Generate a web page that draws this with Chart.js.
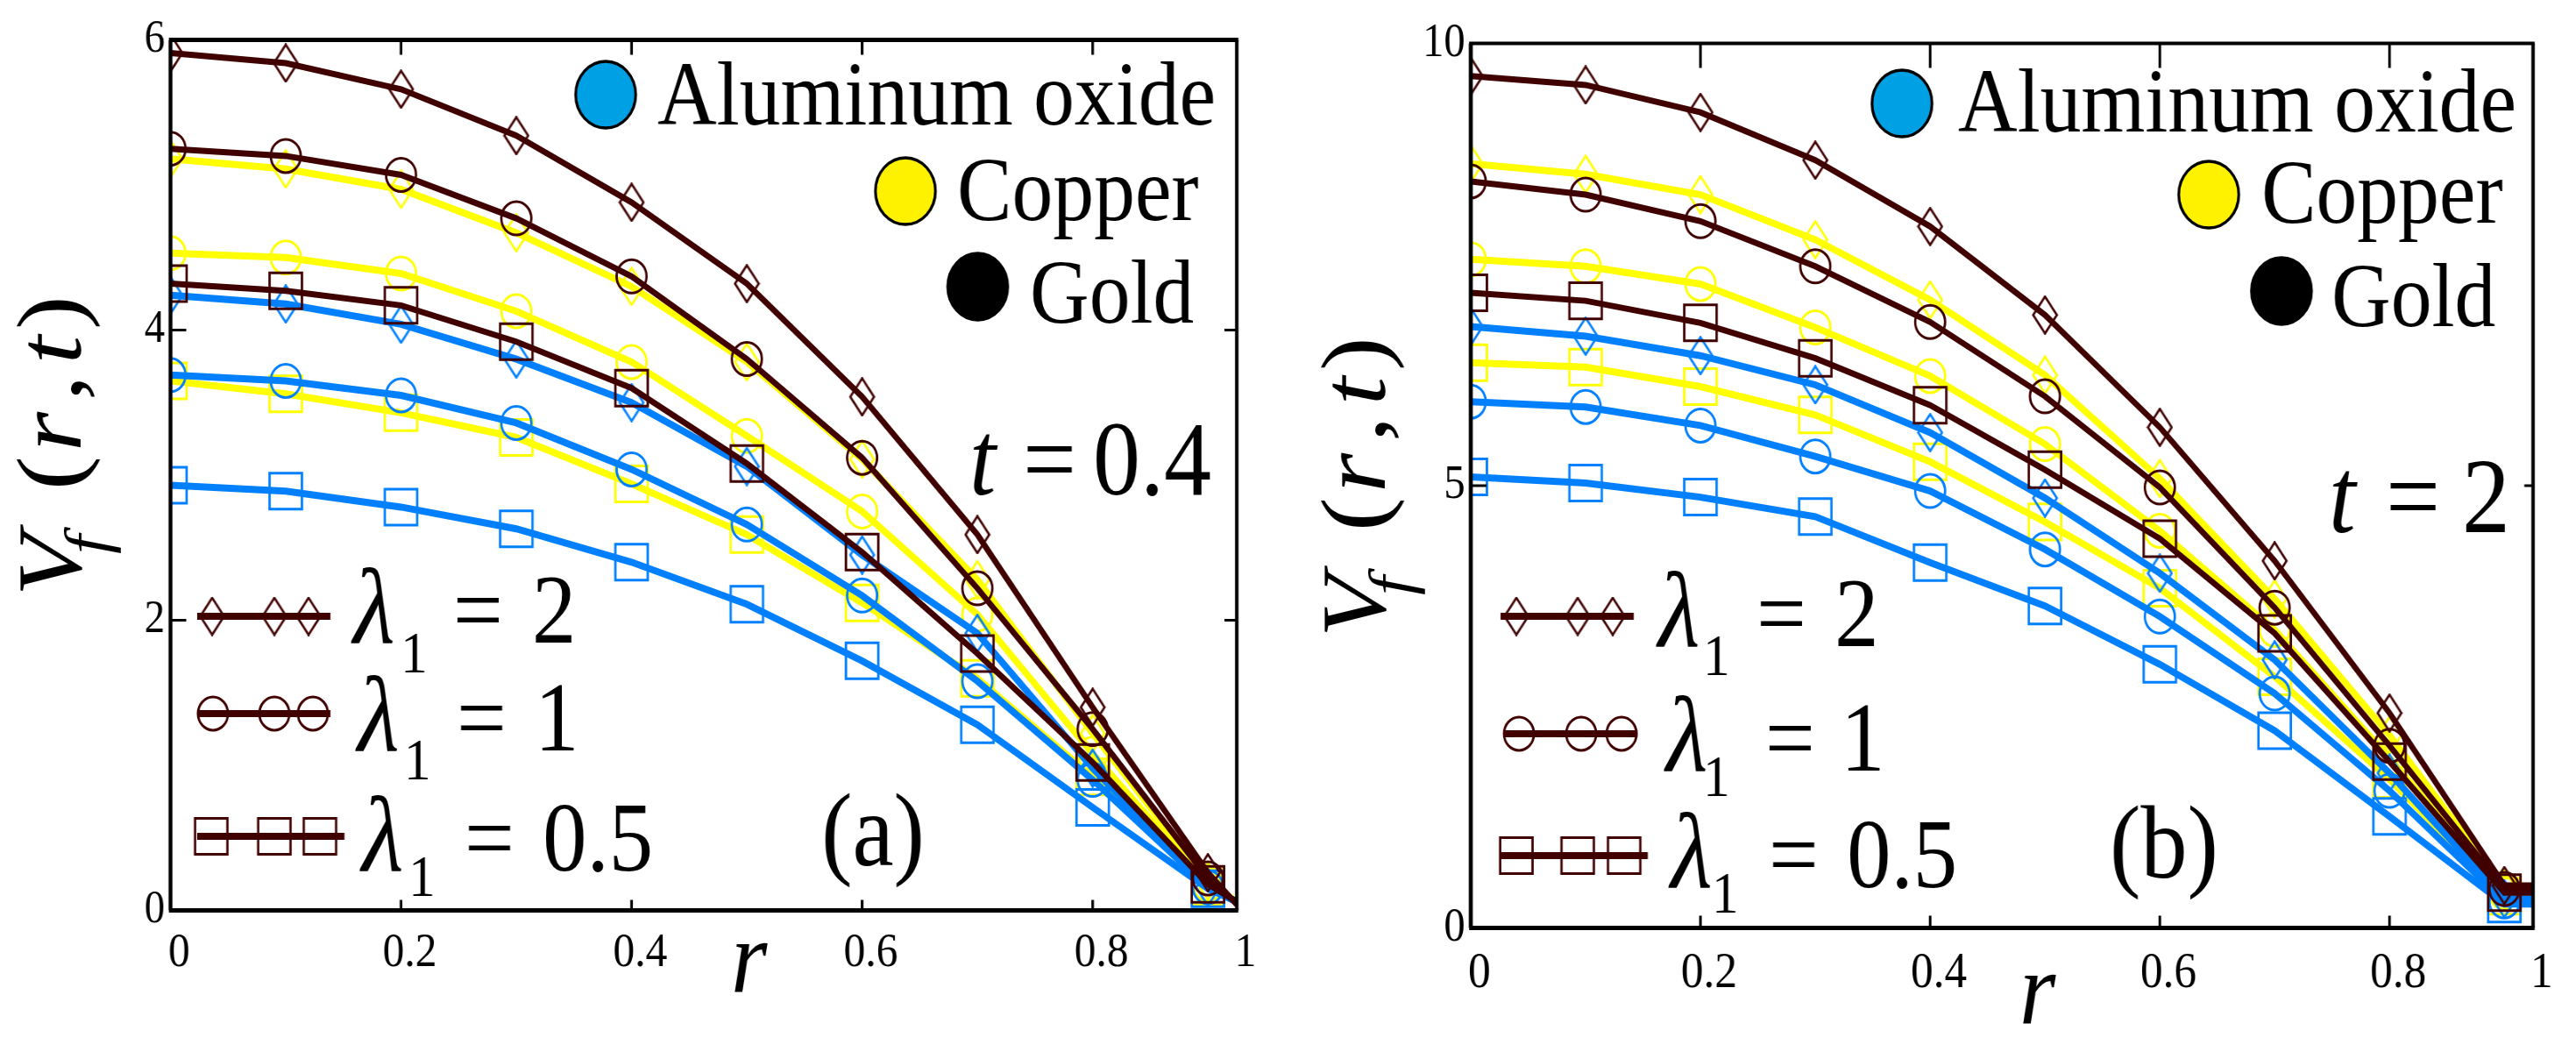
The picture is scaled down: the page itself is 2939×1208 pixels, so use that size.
<!DOCTYPE html>
<html><head><meta charset="utf-8">
<script src="https://cdn.jsdelivr.net/npm/chart.js@4.4.1/dist/chart.umd.min.js"></script>
<style>
html,body{margin:0;padding:0;background:#fff;}
body{width:2939px;height:1208px;position:relative;overflow:hidden;}
canvas{position:absolute;top:0;}
</style></head><body>
<canvas id="ca" width="1633" height="1208" style="left:0px;top:0px;width:1470px;height:1208px"></canvas>
<canvas id="cb" width="1632" height="1208" style="left:1470px;top:0px;width:1469px;height:1208px"></canvas>
<script>
// ---------------- DATA ----------------
const rValues = [0, 0.1, 0.2, 0.3, 0.4, 0.5, 0.6, 0.7, 0.8, 0.9, 0.925];
const xTickValues = [0, 0.2, 0.4, 0.6, 0.8, 0.925];
const xTickLabels = ['0', '0.2', '0.4', '0.6', '0.8', '1'];
const materials = ['Aluminum oxide', 'Copper', 'Gold'];
const lambdaLabels = ['2', '1', '0.5'];
const timeLabels = ['0.4', '2'];
const panelLabels = ['(a)', '(b)'];

// panel (a), t = 0.4
const goldA_l2     = [5.91, 5.84, 5.66, 5.34, 4.88, 4.32, 3.54, 2.59, 1.40, 0.26, 0.04];
const goldA_l1     = [5.25, 5.20, 5.07, 4.77, 4.37, 3.80, 3.12, 2.22, 1.25, 0.22, 0.05];
const goldA_l05    = [4.32, 4.27, 4.17, 3.92, 3.60, 3.08, 2.47, 1.77, 1.02, 0.18, 0.06];
const copperA_l2   = [5.18, 5.11, 4.97, 4.67, 4.30, 3.78, 3.11, 2.28, 1.22, 0.20, 0.06];
const copperA_l1   = [4.53, 4.50, 4.39, 4.13, 3.78, 3.27, 2.75, 2.04, 1.08, 0.18, 0.06];
const copperA_l05  = [3.65, 3.56, 3.43, 3.26, 2.94, 2.59, 2.12, 1.60, 0.92, 0.16, 0.06];
const aluminaA_l2  = [4.24, 4.18, 4.04, 3.80, 3.50, 3.06, 2.45, 1.91, 0.98, 0.16, 0.06];
const aluminaA_l1  = [3.69, 3.65, 3.55, 3.36, 3.04, 2.66, 2.17, 1.58, 0.90, 0.16, 0.06];
const aluminaA_l05 = [2.93, 2.89, 2.78, 2.63, 2.40, 2.11, 1.72, 1.28, 0.71, 0.15, 0.06];

// panel (b), t = 2
const goldB_l2     = [9.63, 9.53, 9.22, 8.68, 7.93, 6.93, 5.66, 4.15, 2.43, 0.48, 0.48];
const goldB_l1     = [8.44, 8.29, 7.99, 7.48, 6.85, 6.01, 4.98, 3.62, 2.06, 0.44, 0.44];
const goldB_l05    = [7.18, 7.09, 6.84, 6.44, 5.91, 5.18, 4.40, 3.33, 1.88, 0.40, 0.40];
const copperB_l2   = [8.64, 8.52, 8.29, 7.78, 7.10, 6.25, 5.08, 3.72, 2.18, 0.45, 0.45];
const copperB_l1   = [7.56, 7.48, 7.28, 6.79, 6.24, 5.47, 4.49, 3.37, 1.92, 0.40, 0.40];
const copperB_l05  = [6.39, 6.34, 6.12, 5.80, 5.27, 4.59, 3.84, 2.84, 1.68, 0.36, 0.36];
const aluminaB_l2  = [6.80, 6.69, 6.47, 6.14, 5.60, 4.86, 4.01, 3.03, 1.75, 0.33, 0.33];
const aluminaB_l1  = [5.95, 5.89, 5.68, 5.33, 4.94, 4.28, 3.52, 2.65, 1.55, 0.30, 0.30];
const aluminaB_l05 = [5.10, 5.03, 4.87, 4.65, 4.13, 3.64, 2.98, 2.23, 1.26, 0.27, 0.27];

// ---------------- STYLE ----------------
const FONT = '"Liberation Serif", "Times New Roman", serif';
const lineColors = ['#0080FF', '#FFFF00', '#400000'];   // alumina, copper, gold
const legendFill = ['#00A0E4', '#FFF200', '#000000'];
const lineWidths = [8, 8, 7];

function diamondSprite(color) {
  const c = document.createElement('canvas');
  c.width = 34; c.height = 45;
  const g = c.getContext('2d');
  g.strokeStyle = color; g.lineWidth = 2.8;
  g.beginPath();
  g.moveTo(17, 1.5); g.lineTo(32, 22.5); g.lineTo(17, 43.5); g.lineTo(2, 22.5);
  g.closePath(); g.stroke();
  return c;
}
const diamonds = lineColors.map(diamondSprite);
function markerStyle(lam, mat) { return lam === 0 ? diamonds[mat] : (lam === 1 ? 'circle' : 'rect'); }
const markerRadius = [10, 19, 29];

function makeDatasets(list) {
  const last = rValues.length - 1;
  return list.map(s => ({
    data: s.values.map((v, i) => ({ x: rValues[i], y: v })),
    borderColor: lineColors[s.mat],
    borderWidth: lineWidths[s.mat],
    tension: 0,
    fill: false,
    clip: 0,
    pointStyle: markerStyle(s.lam, s.mat),
    pointRadius: c => (c.dataIndex === last ? 0 : markerRadius[s.lam]),
    pointBorderColor: lineColors[s.mat],
    pointBackgroundColor: 'rgba(0,0,0,0)',
    pointBorderWidth: 3
  }));
}

// ---------------- DECORATION PLUGIN ----------------
function drawMarker(ctx, lam, mat, x, y) {
  ctx.save();
  ctx.strokeStyle = lineColors[mat];
  ctx.fillStyle = 'rgba(0,0,0,0)';
  ctx.lineWidth = 3;
  Chart.helpers.drawPoint(ctx, { pointStyle: markerStyle(lam, mat), radius: markerRadius[lam], borderWidth: 3, rotation: 0 }, x, y);
  ctx.restore();
}

function makeDecor(cfg) {
  return {
    id: 'decor' + cfg.idx,
    afterDraw(chart) {
      const ctx = chart.ctx;
      const a = chart.chartArea;
      const xs = chart.scales.x, ys = chart.scales.y;
      const sx = cfg.sx;
      const X = dx => (dx - cfg.left) / sx;
      ctx.save();
      ctx.strokeStyle = '#000';
      ctx.lineCap = 'butt';
      const seg = (x1, y1, x2, y2, w) => { ctx.lineWidth = w; ctx.beginPath(); ctx.moveTo(x1, y1); ctx.lineTo(x2, y2); ctx.stroke(); };
      // frame
      seg(a.left - 2, a.top, a.right + 2, a.top, cfg.frame[0]);
      seg(a.left - 2, a.bottom, a.right + 2, a.bottom, cfg.frame[1]);
      seg(a.left, a.top, a.left, a.bottom, cfg.frame[2] / sx);
      seg(a.right, a.top, a.right, a.bottom, cfg.frame[3] / sx);
      // inward tick marks
      xTickValues.slice(1, -1).forEach(v => {
        const px = xs.getPixelForValue(v);
        seg(px, a.bottom, px, a.bottom - cfg.tick[1], 3 / sx);
        seg(px, a.top, px, a.top + cfg.tick[0], 3 / sx);
      });
      ys.ticks.map(t => t.value).filter(v => v > ys.min && v < ys.max).forEach(v => {
        const py = ys.getPixelForValue(v);
        seg(a.left, py, a.left + cfg.tick[2] / sx, py, 3);
        seg(a.right, py, a.right - cfg.tick[3] / sx, py, 3);
      });
      ctx.restore();

      // material legend
      ctx.save();
      cfg.mat.forEach((m, i) => {
        ctx.beginPath();
        ctx.arc(X(m.cx), m.cy, 38, 0, Math.PI * 2);
        ctx.fillStyle = legendFill[i]; ctx.fill();
        ctx.lineWidth = 3.5; ctx.strokeStyle = '#000'; ctx.stroke();
        ctx.fillStyle = '#000';
        ctx.font = `104px ${FONT}`;
        ctx.textAlign = 'left'; ctx.textBaseline = 'alphabetic';
        ctx.fillText(materials[i], X(m.tx), m.base);
      });
      ctx.restore();

      // lambda legend
      ctx.save();
      cfg.lam.forEach((r, i) => {
        ctx.strokeStyle = lineColors[2];
        ctx.lineWidth = 8;
        ctx.beginPath(); ctx.moveTo(X(r.x0), r.y); ctx.lineTo(X(r.x1), r.y); ctx.stroke();
        r.marks.forEach(mx => drawMarker(ctx, i, 2, X(mx), r.y));
        ctx.fillStyle = '#000';
        ctx.textAlign = 'left'; ctx.textBaseline = 'alphabetic';
        ctx.font = `italic 122px ${FONT}`;
        ctx.fillText('\u03BB', X(r.lamX), r.base);
        ctx.font = `68px ${FONT}`;
        ctx.fillText('1', X(r.subX), r.subBase);
        ctx.font = `112px ${FONT}`;
        ctx.fillText('=', X(r.eqX), r.base);
        ctx.fillText(lambdaLabels[i], X(r.valX), r.base);
      });
      ctx.restore();

      // t = value, panel label, x title
      ctx.save();
      ctx.fillStyle = '#000'; ctx.textAlign = 'left'; ctx.textBaseline = 'alphabetic';
      const t = cfg.t;
      ctx.font = `italic ${t.size}px ${FONT}`;
      ctx.fillText('t', X(t.tX), t.base);
      ctx.font = `${t.size}px ${FONT}`;
      ctx.fillText('=', X(t.eqX), t.base);
      ctx.fillText(timeLabels[cfg.idx], X(t.valX), t.base);
      ctx.font = `118px ${FONT}`;
      ctx.fillText(panelLabels[cfg.idx], X(cfg.pl.x), cfg.pl.base);
      ctx.font = `italic 118px ${FONT}`;
      ctx.fillText('r', X(cfg.xt.x), cfg.xt.base);
      ctx.restore();

      // y title, rotated (reads bottom to top)
      ctx.save();
      const S = 116;
      const parts = [
        { t: 'V', f: `italic ${S}px ${FONT}`, at: 0, dy: 0 },
        { t: 'f', f: `italic ${Math.round(S * 0.68)}px ${FONT}`, at: 48, dy: 34 },
        { t: '(', f: `${S}px ${FONT}`, at: 121, dy: 0 },
        { t: 'r', f: `italic ${S}px ${FONT}`, at: 165, dy: 0 },
        { t: ',', f: `${S}px ${FONT}`, at: 223, dy: 0 },
        { t: 't', f: `italic ${S}px ${FONT}`, at: 265, dy: 0 },
        { t: ')', f: `${S}px ${FONT}`, at: 304, dy: 0 }
      ];
      ctx.translate(X(cfg.yt.x), cfg.yt.start);
      ctx.rotate(-Math.PI / 2);
      ctx.fillStyle = '#000'; ctx.textAlign = 'left'; ctx.textBaseline = 'alphabetic';
      parts.forEach(p => { ctx.font = p.f; ctx.fillText(p.t, p.at, p.dy); });
      ctx.restore();
    }
  };
}

// ---------------- CHARTS ----------------
function buildChart(canvasId, cfg, datasets, yMax, yStep, layout) {
  return new Chart(document.getElementById(canvasId), {
    type: 'line',
    data: { datasets },
    plugins: [makeDecor(cfg)],
    options: {
      responsive: false, maintainAspectRatio: false, animation: false, devicePixelRatio: 1, events: [],
      layout: { padding: { left: 0, top: layout.top, right: layout.right, bottom: 0 } },
      plugins: { legend: { display: false }, tooltip: { enabled: false } },
      scales: {
        x: {
          type: 'linear', min: 0, max: rValues[rValues.length - 1],
          grid: { display: false, drawTicks: false }, border: { display: false },
          afterBuildTicks: s => { s.ticks = xTickValues.map(v => ({ value: v })); },
          afterFit: s => { s.height = layout.xh; },
          ticks: { autoSkip: false, maxRotation: 0, minRotation: 0, padding: layout.xpad, labelOffset: 11, color: '#000',
                   font: { family: FONT, size: layout.xfont }, callback: (v, i) => xTickLabels[i] }
        },
        y: {
          type: 'linear', min: 0, max: yMax,
          grid: { display: false, drawTicks: false }, border: { display: false },
          afterFit: s => { s.width = layout.yw; },
          ticks: { stepSize: yStep, padding: 7, color: '#000', font: { family: FONT, size: layout.yfont } }
        }
      }
    }
  });
}

function seriesList(g2, g1, g05, a2, a1, a05, c2, c1, c05) {
  return [
    { mat: 2, lam: 0, values: g2 }, { mat: 2, lam: 1, values: g1 }, { mat: 2, lam: 2, values: g05 },
    { mat: 0, lam: 0, values: a2 }, { mat: 0, lam: 1, values: a1 }, { mat: 0, lam: 2, values: a05 },
    { mat: 1, lam: 0, values: c2 }, { mat: 1, lam: 1, values: c1 }, { mat: 1, lam: 2, values: c05 }
  ];
}

const SA = 1470 / 1633, SB = 1469 / 1632;

const cfgA = {
  idx: 0, left: 0, sx: SA,
  frame: [5, 5, 4.5, 4], tick: [17, 12, 18, 14],
  mat: [{ cx: 691, cy: 108, tx: 750, base: 142 }, { cx: 1033, cy: 218, tx: 1092, base: 251 }, { cx: 1115.5, cy: 327, tx: 1175, base: 368 }],
  lam: [
    { y: 703, x0: 225, x1: 377, marks: [242, 313, 352], lamX: 403, base: 733, subX: 457, subBase: 767, eqX: 517, valX: 607 },
    { y: 814, x0: 225, x1: 377, marks: [243, 313, 357], lamX: 408, base: 856, subX: 461, subBase: 889, eqX: 521, valX: 610 },
    { y: 954, x0: 225, x1: 393, marks: [241, 313, 365], lamX: 413, base: 993, subX: 466, subBase: 1022, eqX: 530, valX: 619 }
  ],
  t: { tX: 1106, eqX: 1167, valX: 1247, base: 564, size: 120 },
  pl: { x: 937, base: 987 },
  yt: { x: 92, start: 680 },
  xt: { x: 834, base: 1132 }
};
const cfgB = {
  idx: 1, left: 1470, sx: SB,
  frame: [4, 5, 4.5, 4], tick: [28, 14, 18, 10],
  mat: [{ cx: 2170, cy: 118, tx: 2234, base: 150 }, { cx: 2520, cy: 222, tx: 2580, base: 254 }, { cx: 2603, cy: 332, tx: 2660, base: 372 }],
  lam: [
    { y: 703, x0: 1712, x1: 1864, marks: [1730, 1800, 1840], lamX: 1892, base: 737, subX: 1943, subBase: 770, eqX: 2004, valX: 2093 },
    { y: 837, x0: 1716, x1: 1868, marks: [1733, 1804, 1850], lamX: 1901, base: 879, subX: 1943, subBase: 908, eqX: 2014, valX: 2100 },
    { y: 976, x0: 1712, x1: 1880, marks: [1730, 1800, 1853], lamX: 1906, base: 1012, subX: 1953, subBase: 1041, eqX: 2018, valX: 2107 }
  ],
  t: { tX: 2657, eqX: 2722, valX: 2809, base: 607, size: 122 },
  pl: { x: 2407, base: 1001 },
  yt: { x: 1580, start: 727 },
  xt: { x: 2304, base: 1168 }
};

buildChart('ca', cfgA,
  makeDatasets(seriesList(goldA_l2, goldA_l1, goldA_l05, aluminaA_l2, aluminaA_l1, aluminaA_l05, copperA_l2, copperA_l1, copperA_l05)),
  6, 2,
  { top: 45.5, right: 1633 - 1411 / SA, xh: 1208 - 1038.5, yw: 194.5 / SA, xpad: 16, xfont: 55, yfont: 52 });

buildChart('cb', cfgB,
  makeDatasets(seriesList(goldB_l2, goldB_l1, goldB_l05, aluminaB_l2, aluminaB_l1, aluminaB_l05, copperB_l2, copperB_l1, copperB_l05)),
  10, 5,
  { top: 49.5, right: 1632 - 1420 / SB, xh: 1208 - 1058.5, yw: 208 / SB, xpad: 18, xfont: 57, yfont: 54 });
</script>
</body></html>
